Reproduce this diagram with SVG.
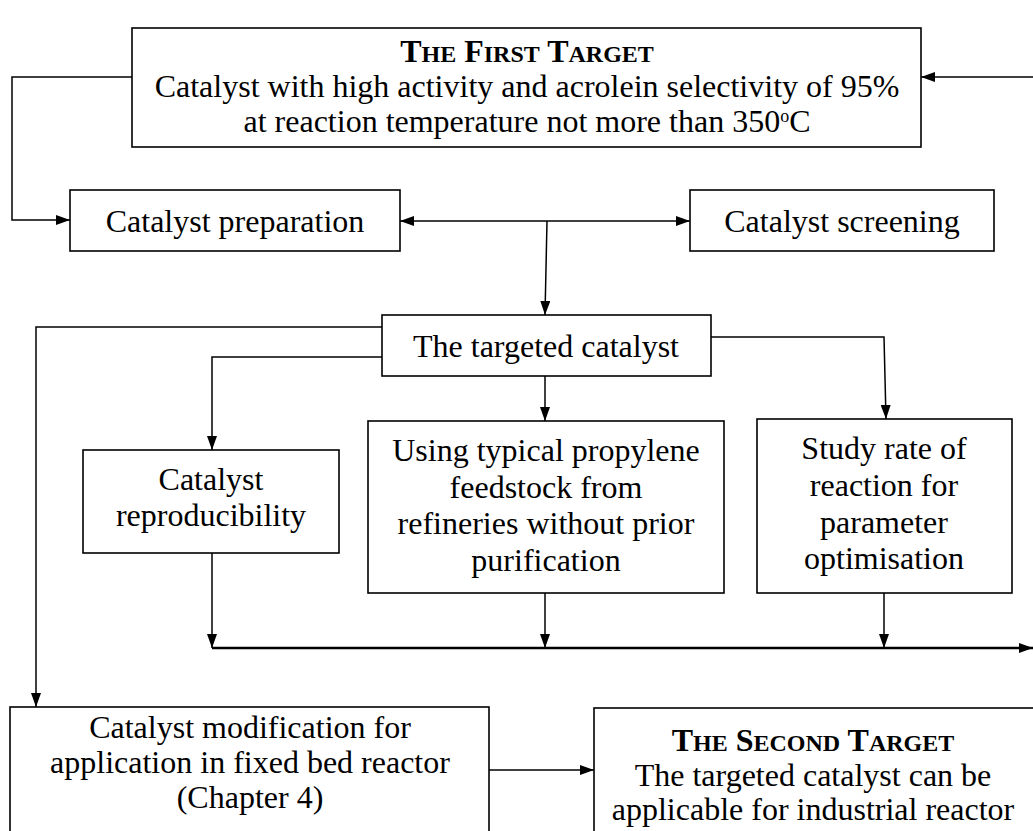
<svg xmlns="http://www.w3.org/2000/svg" width="1033" height="831" viewBox="0 0 1033 831">
<style>
.box{fill:#fff;stroke:#000;stroke-width:1.6}
.t{font-family:"Liberation Serif","Times New Roman",serif;font-size:32px;fill:#000;text-anchor:middle}
.b{font-weight:bold}
.sc{font-size:24px}
.c{fill:none;stroke:#000;stroke-width:1.5}
.thick{stroke-width:2.4}
</style>
<defs>
<marker id="ah" viewBox="0 0 14 10" refX="14" refY="5" markerWidth="14" markerHeight="10" markerUnits="userSpaceOnUse" orient="auto-start-reverse">
<path d="M0,0 L14,5 L0,10 Z" fill="#000"/>
</marker>
</defs>
<rect width="1033" height="831" fill="#fff"/>
<g id="connectors">
<path class="c" d="M1033,77 L921,77" marker-end="url(#ah)"/>
<path class="c" d="M132,77 L12,77 L12,220 L70,220" marker-end="url(#ah)"/>
<path class="c" d="M400,221 L690,221" marker-start="url(#ah)" marker-end="url(#ah)"/>
<path class="c" d="M547,221 L545,315" marker-end="url(#ah)"/>
<path class="c" d="M382,327 L36,327 L36,707" marker-end="url(#ah)"/>
<path class="c" d="M382,357 L212,357 L212,450" marker-end="url(#ah)"/>
<path class="c" d="M545,376 L545,421" marker-end="url(#ah)"/>
<path class="c" d="M711,337 L884,337 L886,419" marker-end="url(#ah)"/>
<path class="c" d="M212,553 L212,648" marker-end="url(#ah)"/>
<path class="c" d="M545,593 L545,648" marker-end="url(#ah)"/>
<path class="c" d="M884,593 L884,648" marker-end="url(#ah)"/>
<path class="c thick" d="M212,648 L1033,648" marker-end="url(#ah)"/>
<path class="c" d="M489,770 L594,770" marker-end="url(#ah)"/>
</g>
<g id="first-target">
<rect class="box" x="132" y="28" width="789" height="119"/>
<text class="t b" x="527" y="62">T<tspan class="sc">HE</tspan> F<tspan class="sc">IRST</tspan> T<tspan class="sc">ARGET</tspan></text>
<text class="t" x="527" y="97">Catalyst with high activity and acrolein selectivity of 95%</text>
<text class="t" x="527" y="132">at reaction temperature not more than 350<tspan font-size="18" dy="-10">o</tspan><tspan dy="10">C</tspan></text>
</g>
<g id="catalyst-preparation">
<rect class="box" x="70" y="190" width="330" height="61"/>
<text class="t" x="235" y="232">Catalyst preparation</text>
</g>
<g id="catalyst-screening">
<rect class="box" x="690" y="190" width="304" height="61"/>
<text class="t" x="842" y="232">Catalyst screening</text>
</g>
<g id="targeted-catalyst">
<rect class="box" x="382" y="315" width="329" height="61"/>
<text class="t" x="546" y="357">The targeted catalyst</text>
</g>
<g id="reproducibility">
<rect class="box" x="83" y="450" width="256" height="103"/>
<text class="t" x="211" y="490">Catalyst</text>
<text class="t" x="211" y="526">reproducibility</text>
</g>
<g id="feedstock">
<rect class="box" x="368" y="421" width="356" height="172"/>
<text class="t" x="546" y="461">Using typical propylene</text>
<text class="t" x="546" y="498">feedstock from</text>
<text class="t" x="546" y="534">refineries without prior</text>
<text class="t" x="546" y="571">purification</text>
</g>
<g id="rate-study">
<rect class="box" x="757" y="419" width="255" height="174"/>
<text class="t" x="884" y="459">Study rate of</text>
<text class="t" x="884" y="496">reaction for</text>
<text class="t" x="884" y="533">parameter</text>
<text class="t" x="884" y="569">optimisation</text>
</g>
<g id="modification">
<rect class="box" x="10" y="707" width="479" height="140"/>
<text class="t" x="250" y="738">Catalyst modification for</text>
<text class="t" x="250" y="773">application in fixed bed reactor</text>
<text class="t" x="250" y="808">(Chapter 4)</text>
</g>
<g id="second-target">
<rect class="box" x="594" y="708" width="460" height="140"/>
<text class="t b" x="813" y="751">T<tspan class="sc">HE</tspan> S<tspan class="sc">ECOND</tspan> T<tspan class="sc">ARGET</tspan></text>
<text class="t" x="813" y="786">The targeted catalyst can be</text>
<text class="t" x="813" y="820">applicable for industrial reactor</text>
</g>
</svg>
